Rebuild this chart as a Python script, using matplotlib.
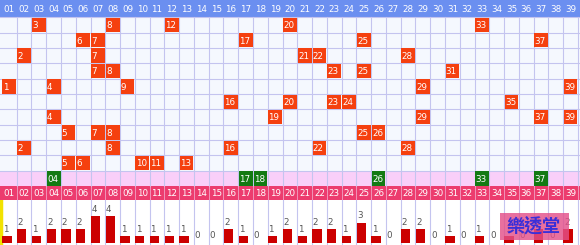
import matplotlib
matplotlib.use("Agg")
import matplotlib.pyplot as plt
from matplotlib.patches import Rectangle

# numbers drawn in each row of the grid (top to bottom)
draw_rows = [
    [3, 8, 12, 20, 33],
    [6, 7, 17, 25, 37],
    [2, 7, 21, 22, 28],
    [7, 8, 23, 25, 31],
    [1, 4, 9, 29, 39],
    [16, 20, 23, 24, 35],
    [4, 19, 29, 37, 39],
    [5, 7, 8, 25, 26],
    [2, 8, 16, 22, 28],
    [5, 6, 10, 11, 13],
]
# special numbers (green cells in the pink row)
special_nums = [4, 17, 18, 26, 33, 37]
# counts shown under the bars, numbers 01..39
counts = [1, 2, 1, 2, 2, 2, 4, 4, 1, 1, 1, 1, 1, 0, 0, 2, 1, 0, 1, 2,
          1, 2, 2, 1, 3, 1, 0, 2, 2, 0, 1, 0, 1, 0, 1, 0, 2, 0, 2]
numbers = list(range(1, 40))
col_labels = ["%02d" % n for n in numbers]

# colours
HEAD_BLUE = "#6b8ff0"
GRID_BG = "#f5f8fe"
GRID_LINE = "#c4c4ef"
RED = "#f5400f"
GREEN = "#137a13"
SPECIAL_BG = "#f9cff9"
PINK_HEAD = "#ec3c6e"
BAR_RED = "#cc0000"

# pixel geometry of the table -> data limits
COL_W = 14.77
X0 = 0.5 - 1.93 / COL_W
X1 = X0 + 580 / COL_W
ROW_H = 15.35
Y_TOP = 0.5 - 17.3 / ROW_H
Y_BOT = Y_TOP + 200 / ROW_H

fig = plt.figure(figsize=(5.8, 2.45), dpi=100)
fig.patch.set_facecolor("white")

# ---- top grid ----
ax = fig.add_axes([0, 45 / 245, 1, 200 / 245])
ax.set_xlim(X0, X1)
ax.set_ylim(Y_BOT, Y_TOP)
ax.set_facecolor(GRID_BG)
ax.axis("off")
ax.add_patch(Rectangle((X0, 0.5), X1 - X0, 11, color=GRID_BG, zorder=0))

n_rows = len(draw_rows)
special_row = n_rows + 1

ax.axhspan(Y_TOP, 0.5, color=HEAD_BLUE, lw=0, zorder=1)
ax.axhspan(special_row - 0.5, special_row + 0.5, color=SPECIAL_BG, lw=0, zorder=1)
ax.axhspan(special_row + 0.5, Y_BOT, color=PINK_HEAD, lw=0, zorder=1)

for k in range(1, 40):
    ax.plot([k + 0.5, k + 0.5], [0.5, special_row + 0.5], color=GRID_LINE, lw=0.8, zorder=2)
    ax.plot([k + 0.5, k + 0.5], [special_row + 0.5, Y_BOT], color="#f1a2c4", lw=0.6, zorder=2)
for r in range(0, special_row):
    ax.plot([X0, X1], [r + 0.5, r + 0.5], color=GRID_LINE, lw=0.8, zorder=2)

cw = 1 - 1.0 / COL_W
ch = 1 - 1.0 / ROW_H
for i, row in enumerate(draw_rows, start=1):
    ax.bar(row, ch, bottom=[i - ch / 2] * len(row), width=cw, color=RED, lw=0, zorder=3)
    for n in row:
        ax.text(n - 0.45, i + 0.05, str(n), ha="left", va="center", color="white",
                fontsize=6.3, zorder=4)

ax.bar(special_nums, ch, bottom=[special_row - ch / 2] * len(special_nums), width=cw,
       color=GREEN, lw=0, zorder=3)
for n in special_nums:
    ax.text(n - 0.45, special_row + 0.05, "%02d" % n, ha="left", va="center",
            color="white", fontsize=6.3, zorder=4)

head_y = (Y_TOP + 0.5) / 2
foot_y = (special_row + 0.5 + Y_BOT) / 2
for n, lab in zip(numbers, col_labels):
    ax.text(n, head_y + 0.05, lab, ha="center", va="center", color="white", fontsize=6.3, zorder=4)
    ax.text(n, foot_y + 0.05, lab, ha="center", va="center", color="white", fontsize=6.3, zorder=4)

# ---- bar chart ----
PX_PER_UNIT = 6.7
ax2 = fig.add_axes([0, 0, 1, 45 / 245])
ax2.set_xlim(X0, X1)
ax2.set_ylim(-2.3 / PX_PER_UNIT, 42.7 / PX_PER_UNIT)
ax2.axis("off")
for k in range(1, 40):
    ax2.axvline(k + 0.5, color=GRID_LINE, lw=0.8, zorder=1)
ax2.axvline(X0 + 0.05, color="#f2e200", lw=2.5, zorder=1)

lefts = [n - 0.5 + 0.02 for n in numbers]
ax2.bar(lefts, counts, width=0.63, align="edge", color=BAR_RED, lw=0, zorder=2)
for x, c in zip(lefts, counts):
    ax2.text(x + 0.03, c + 0.35, str(c), ha="left", va="bottom", color="#555555",
             fontsize=6.3, zorder=3)

# watermark logo
fig.add_artist(Rectangle((500 / 580, 5 / 245), 69 / 580, 27 / 245, transform=fig.transFigure,
                         color="#e3508a", alpha=0.82, lw=0, zorder=5))
fig.text(534 / 580, (245 - 226) / 245, "樂透堂", ha="center", va="center", color="#3a2fd8",
         fontsize=13, fontweight="bold", family=["Noto Sans CJK TC", "DejaVu Sans"], zorder=6)

fig.savefig("out.png", dpi=100)
